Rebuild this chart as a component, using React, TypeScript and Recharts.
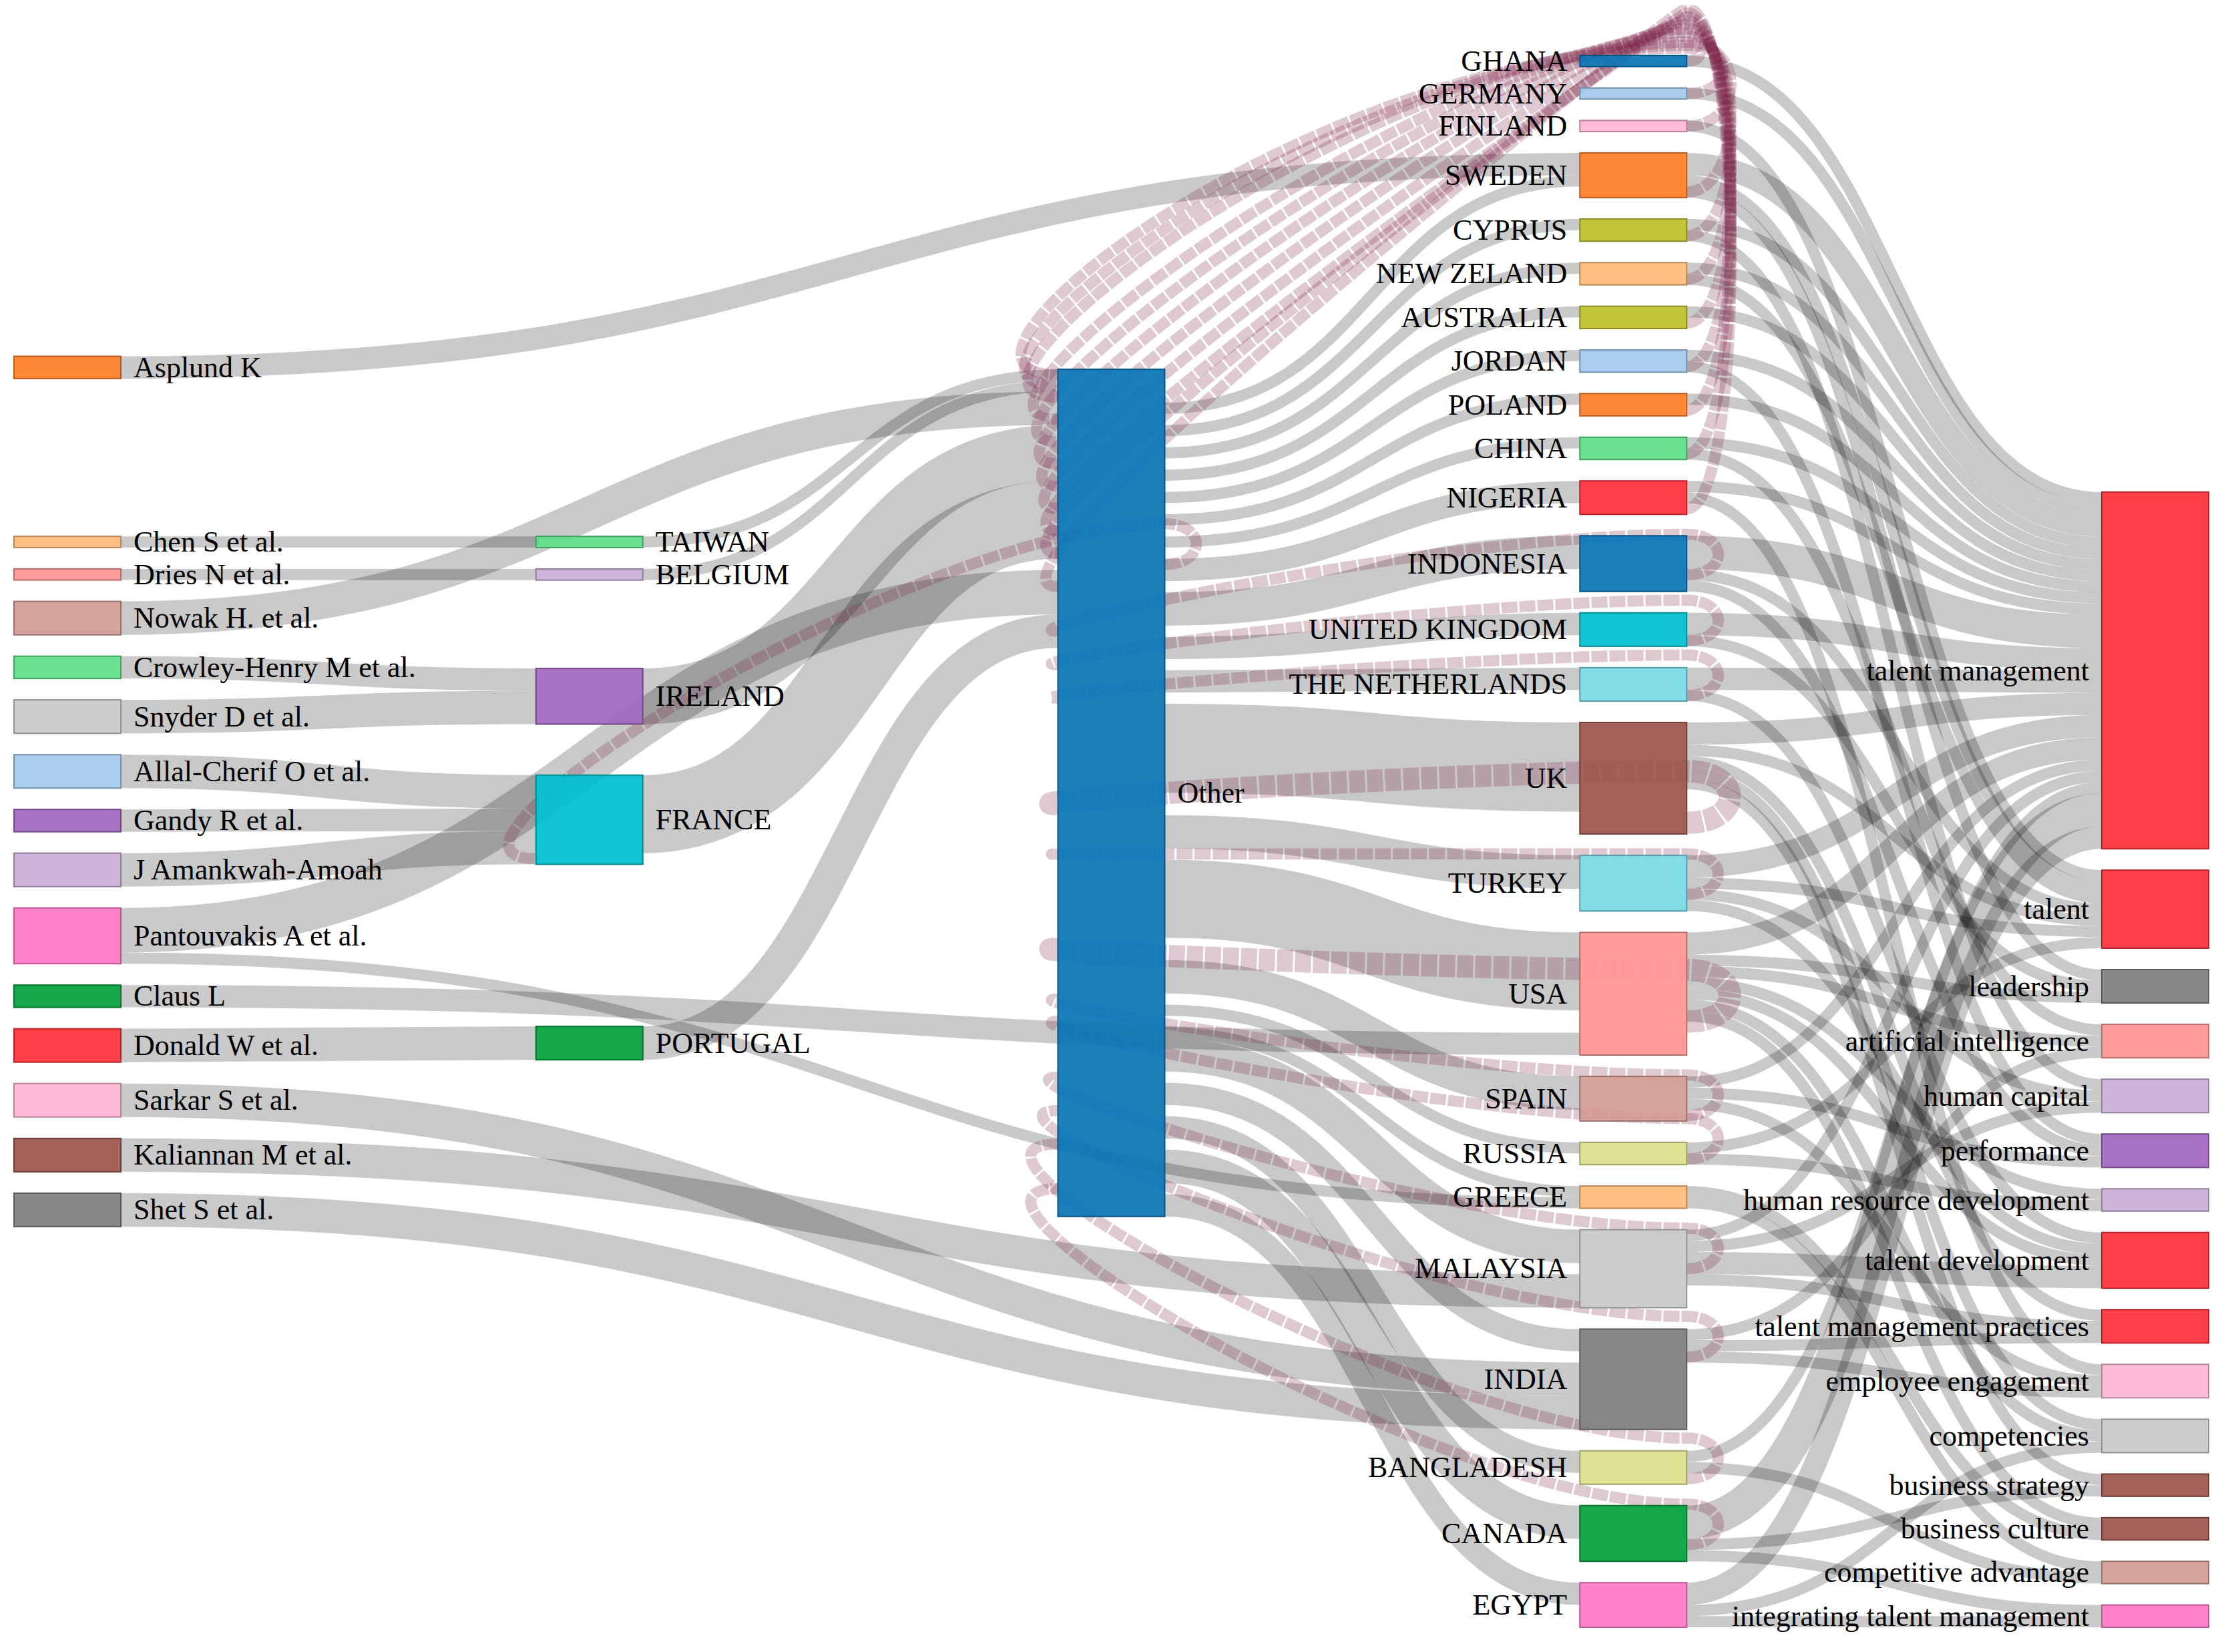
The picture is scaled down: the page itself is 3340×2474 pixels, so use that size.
import React from "react";
import { Sankey } from "recharts";

// ---- data ----
const authors = [
  "Asplund K",
  "Chen S et al.",
  "Dries N et al.",
  "Nowak H. et al.",
  "Crowley-Henry M et al.",
  "Snyder D et al.",
  "Allal-Cherif O et al.",
  "Gandy R et al.",
  "J Amankwah-Amoah",
  "Pantouvakis A et al.",
  "Claus L",
  "Donald W et al.",
  "Sarkar S et al.",
  "Kaliannan M et al.",
  "Shet S et al.",
];

const firstCountries = ["TAIWAN", "BELGIUM", "IRELAND", "FRANCE", "PORTUGAL"];

const hub = "Other";

const countries = [
  "GHANA",
  "GERMANY",
  "FINLAND",
  "SWEDEN",
  "CYPRUS",
  "NEW ZELAND",
  "AUSTRALIA",
  "JORDAN",
  "POLAND",
  "CHINA",
  "NIGERIA",
  "INDONESIA",
  "UNITED KINGDOM",
  "THE NETHERLANDS",
  "UK",
  "TURKEY",
  "USA",
  "SPAIN",
  "RUSSIA",
  "GREECE",
  "MALAYSIA",
  "INDIA",
  "BANGLADESH",
  "CANADA",
  "EGYPT",
];

const keywords = [
  "talent management",
  "talent",
  "leadership",
  "artificial intelligence",
  "human capital",
  "performance",
  "human resource development",
  "talent development",
  "talent management practices",
  "employee engagement",
  "competencies",
  "business strategy",
  "business culture",
  "competitive advantage",
  "integrating talent management",
];

// author -> country
const authorLinks: [string, string, number][] = [
  ["Asplund K", "SWEDEN", 2],
  ["Chen S et al.", "TAIWAN", 1],
  ["Dries N et al.", "BELGIUM", 1],
  ["Nowak H. et al.", "Other", 3],
  ["Crowley-Henry M et al.", "IRELAND", 2],
  ["Snyder D et al.", "IRELAND", 3],
  ["Allal-Cherif O et al.", "FRANCE", 3],
  ["Gandy R et al.", "FRANCE", 2],
  ["J Amankwah-Amoah", "FRANCE", 3],
  ["Pantouvakis A et al.", "Other", 4],
  ["Pantouvakis A et al.", "GREECE", 1],
  ["Claus L", "USA", 2],
  ["Donald W et al.", "PORTUGAL", 3],
  ["Sarkar S et al.", "INDIA", 3],
  ["Kaliannan M et al.", "MALAYSIA", 3],
  ["Shet S et al.", "INDIA", 3],
];

// first countries -> Other : [country, plain, looped]
const firstToHub: [string, number, number][] = [
  ["TAIWAN", 1, 0],
  ["BELGIUM", 1, 0],
  ["IRELAND", 5, 0],
  ["FRANCE", 7, 1],
  ["PORTUGAL", 3, 0],
];

// Other -> countries : [country, plain, looped]
const hubToCountry: [string, number, number][] = [
  ["GHANA", 0, 1],
  ["GERMANY", 0, 1],
  ["FINLAND", 0, 1],
  ["SWEDEN", 1, 1],
  ["CYPRUS", 1, 1],
  ["NEW ZELAND", 1, 1],
  ["AUSTRALIA", 1, 1],
  ["JORDAN", 1, 1],
  ["POLAND", 1, 1],
  ["CHINA", 1, 1],
  ["NIGERIA", 2, 1],
  ["INDONESIA", 3, 1],
  ["UNITED KINGDOM", 2, 1],
  ["THE NETHERLANDS", 2, 1],
  ["UK", 8, 2],
  ["TURKEY", 3, 1],
  ["USA", 7, 2],
  ["SPAIN", 3, 1],
  ["RUSSIA", 1, 1],
  ["GREECE", 1, 0],
  ["MALAYSIA", 3, 1],
  ["INDIA", 2, 1],
  ["BANGLADESH", 2, 1],
  ["CANADA", 3, 1],
  ["EGYPT", 2, 0],
];

// countries -> keywords
const countryKeywords: [string, string, number][] = [
  ["GHANA", "talent management", 1],
  ["GERMANY", "talent management", 1],
  ["FINLAND", "talent", 1],
  ["SWEDEN", "talent management", 2],
  ["SWEDEN", "talent", 1],
  ["SWEDEN", "leadership", 1],
  ["CYPRUS", "talent management", 1],
  ["CYPRUS", "human capital", 1],
  ["NEW ZELAND", "talent management", 1],
  ["NEW ZELAND", "talent", 1],
  ["AUSTRALIA", "talent management", 1],
  ["JORDAN", "talent management", 1],
  ["JORDAN", "performance", 1],
  ["POLAND", "talent management", 1],
  ["CHINA", "talent management", 1],
  ["CHINA", "artificial intelligence", 1],
  ["NIGERIA", "talent management", 1],
  ["NIGERIA", "employee engagement", 1],
  ["INDONESIA", "talent management", 3],
  ["INDONESIA", "talent", 1],
  ["INDONESIA", "performance", 1],
  ["UNITED KINGDOM", "talent management", 2],
  ["UNITED KINGDOM", "leadership", 1],
  ["THE NETHERLANDS", "talent management", 2],
  ["THE NETHERLANDS", "talent development", 1],
  ["UK", "talent management", 2],
  ["UK", "talent", 1],
  ["UK", "competencies", 1],
  ["UK", "business strategy", 1],
  ["UK", "talent management practices", 1],
  ["TURKEY", "talent management", 2],
  ["TURKEY", "talent", 1],
  ["TURKEY", "human capital", 1],
  ["TURKEY", "talent development", 1],
  ["USA", "talent management", 2],
  ["USA", "leadership", 1],
  ["USA", "artificial intelligence", 1],
  ["USA", "human resource development", 1],
  ["USA", "talent development", 1],
  ["USA", "competencies", 1],
  ["USA", "business culture", 1],
  ["SPAIN", "talent management", 1],
  ["SPAIN", "performance", 1],
  ["SPAIN", "employee engagement", 1],
  ["RUSSIA", "talent", 1],
  ["RUSSIA", "human resource development", 1],
  ["GREECE", "competitive advantage", 1],
  ["GREECE", "business culture", 1],
  ["MALAYSIA", "talent management", 1],
  ["MALAYSIA", "talent development", 2],
  ["MALAYSIA", "talent management practices", 1],
  ["MALAYSIA", "human capital", 1],
  ["INDIA", "artificial intelligence", 1],
  ["INDIA", "talent management practices", 1],
  ["INDIA", "employee engagement", 1],
  ["BANGLADESH", "talent management", 1],
  ["BANGLADESH", "competitive advantage", 1],
  ["CANADA", "talent management", 3],
  ["CANADA", "integrating talent management", 1],
  ["CANADA", "business strategy", 1],
  ["EGYPT", "talent management", 2],
  ["EGYPT", "integrating talent management", 1],
  ["EGYPT", "competencies", 1],
];

// ---- styles ----
const BLUE = "#0a75b5";
const LBLUE = "#a4c8ec";
const ORANGE = "#ff7f27";
const LORANGE = "#ffbb78";
const GREEN = "#03a13c";
const LGREEN = "#5fe08a";
const RED = "#ff303a";
const LRED = "#ff9696";
const PURPLE = "#a066c0";
const LPURPLE = "#cbaed9";
const BROWN = "#9c554b";
const LBROWN = "#d39c94";
const PINK = "#ff79c6";
const LPINK = "#ffb6d5";
const GREY = "#7f7f7f";
const LGREY = "#c9c9c9";
const OLIVE = "#bfc02c";
const LOLIVE = "#dfdf8e";
const CYAN = "#00bfd0";
const LCYAN = "#78d9e6";

const nodeColors: Record<string, string> = {
  "Asplund K": ORANGE,
  "Chen S et al.": LORANGE,
  "Dries N et al.": LRED,
  "Nowak H. et al.": LBROWN,
  "Crowley-Henry M et al.": LGREEN,
  "Snyder D et al.": LGREY,
  "Allal-Cherif O et al.": LBLUE,
  "Gandy R et al.": PURPLE,
  "J Amankwah-Amoah": LPURPLE,
  "Pantouvakis A et al.": PINK,
  "Claus L": GREEN,
  "Donald W et al.": RED,
  "Sarkar S et al.": LPINK,
  "Kaliannan M et al.": BROWN,
  "Shet S et al.": GREY,
  TAIWAN: LGREEN,
  BELGIUM: LPURPLE,
  IRELAND: PURPLE,
  FRANCE: CYAN,
  PORTUGAL: GREEN,
  Other: BLUE,
  GHANA: BLUE,
  GERMANY: LBLUE,
  FINLAND: LPINK,
  SWEDEN: ORANGE,
  CYPRUS: OLIVE,
  "NEW ZELAND": LORANGE,
  AUSTRALIA: OLIVE,
  JORDAN: LBLUE,
  POLAND: ORANGE,
  CHINA: LGREEN,
  NIGERIA: RED,
  INDONESIA: BLUE,
  "UNITED KINGDOM": CYAN,
  "THE NETHERLANDS": LCYAN,
  UK: BROWN,
  TURKEY: LCYAN,
  USA: LRED,
  SPAIN: LBROWN,
  RUSSIA: LOLIVE,
  GREECE: LORANGE,
  MALAYSIA: LGREY,
  INDIA: GREY,
  BANGLADESH: LOLIVE,
  CANADA: GREEN,
  EGYPT: PINK,
  "talent management": RED,
  talent: RED,
  leadership: GREY,
  "artificial intelligence": LRED,
  "human capital": LPURPLE,
  performance: PURPLE,
  "human resource development": LPURPLE,
  "talent development": RED,
  "talent management practices": RED,
  "employee engagement": LPINK,
  competencies: LGREY,
  "business strategy": BROWN,
  "business culture": BROWN,
  "competitive advantage": LBROWN,
  "integrating talent management": PINK,
};

const WIDTH = 3320;
const HEIGHT = 2450;
const NODE_W = 160;
const NODE_PAD = 32;
const MARGIN = { top: 75, right: 20, bottom: 21, left: 13 };
const FONT = "'Liberation Serif', 'Times New Roman', serif";

// ---- build sankey data ----
const names = [...authors, ...firstCountries, hub, ...countries, ...keywords];
const idx = (n: string) => names.indexOf(n);

const plainLinks: any[] = [];
const loopLinks: any[] = [];

authorLinks.forEach(([s, t, v]) =>
  plainLinks.push({ source: idx(s), target: idx(t), value: v })
);
firstToHub.forEach(([c, plain, looped]) => {
  if (plain) plainLinks.push({ source: idx(c), target: idx(hub), value: plain });
  if (looped)
    loopLinks.push({ source: idx(c), target: idx(hub), value: looped, loop: "side" });
});
hubToCountry.forEach(([c, plain, looped]) => {
  if (plain) plainLinks.push({ source: idx(hub), target: idx(c), value: plain });
  if (looped)
    loopLinks.push({ source: idx(hub), target: idx(c), value: looped, loop: "hub" });
});
countryKeywords.forEach(([c, k, v]) =>
  plainLinks.push({ source: idx(c), target: idx(k), value: v })
);

const data = {
  nodes: names.map((name) => ({ name })),
  links: [...plainLinks, ...loopLinks],
};

function darken(hex: string) {
  const n = parseInt(hex.slice(1), 16);
  const f = (v: number) => Math.round(v * 0.72);
  return `rgb(${f((n >> 16) & 255)},${f((n >> 8) & 255)},${f(n & 255)})`;
}

const renderNode = (props: any) => {
  const { x, y, width, height, payload } = props;
  const color = nodeColors[payload.name] || "#999";
  const labelLeft = payload.depth >= 3;
  return (
    <g>
      <rect
        x={x}
        y={y}
        width={width}
        height={height}
        fill={color}
        fillOpacity={0.93}
        stroke={darken(color)}
        strokeWidth={2}
      />
      <text
        x={labelLeft ? x - 19 : x + width + 19}
        y={y + height / 2}
        textAnchor={labelLeft ? "end" : "start"}
        dominantBaseline="central"
        fontFamily={FONT}
        fontSize={44}
        fill="#000"
      >
        {payload.name}
      </text>
    </g>
  );
};

// backward (circular) link: leaves the right side of the target, turns back,
// and comes into the left side of the source
function loopPath(tR: number, ty: number, sL: number, sy: number, lw: number, overTop: boolean) {
  const rel = ty - MARGIN.top;
  const apex = overTop ? MARGIN.top - 10 - 0.09 * rel : ty - (lw + 44);
  const span = ty - apex;
  const r = Math.min(span * 0.9, 80) + lw * 0.5;
  const dx = tR - sL;
  const k = overTop ? Math.max(0.02, Math.min(0.6, 0.6 - 0.0011 * rel)) : 0.4;
  const L = overTop
    ? 160 + 80 * (k / 0.6) + lw * 0.5
    : Math.max(90, Math.min(220, Math.abs(sy - apex) * 0.5)) + lw * 0.5;
  return `M${tR},${ty} C${tR + r},${ty} ${tR + r},${apex} ${tR},${apex} C${tR - dx * k},${apex} ${sL - L},${sy} ${sL},${sy}`;
}

const renderLink = (props: any) => {
  const {
    sourceX,
    sourceY,
    targetX,
    targetY,
    sourceControlX,
    targetControlX,
    linkWidth,
    payload,
  } = props;
  if (payload && payload.loop) {
    const tR = targetX + NODE_W;
    const sL = sourceX - NODE_W;
    const overTop = payload.loop === "hub" && sourceY - targetY > 100;
    return (
      <path
        d={loopPath(tR, targetY, sL, sourceY, linkWidth, overTop)}
        fill="none"
        stroke="#7a2449"
        strokeOpacity={0.25}
        strokeWidth={linkWidth}
        strokeDasharray="24 3"
      />
    );
  }
  return (
    <path
      d={`M${sourceX},${sourceY}C${sourceControlX},${sourceY} ${targetControlX},${targetY} ${targetX},${targetY}`}
      fill="none"
      stroke="#000"
      strokeOpacity={0.21}
      strokeWidth={linkWidth}
    />
  );
};

export default function App() {
  return (
    <div style={{ width: WIDTH, height: HEIGHT, background: "#fff" }}>
      <Sankey
        width={WIDTH}
        height={HEIGHT}
        data={data}
        nodeWidth={NODE_W}
        nodePadding={NODE_PAD}
        margin={MARGIN}
        iterations={1}
        sort={false}
        node={renderNode}
        link={renderLink}
        isAnimationActive={false}
      />
    </div>
  );
}
